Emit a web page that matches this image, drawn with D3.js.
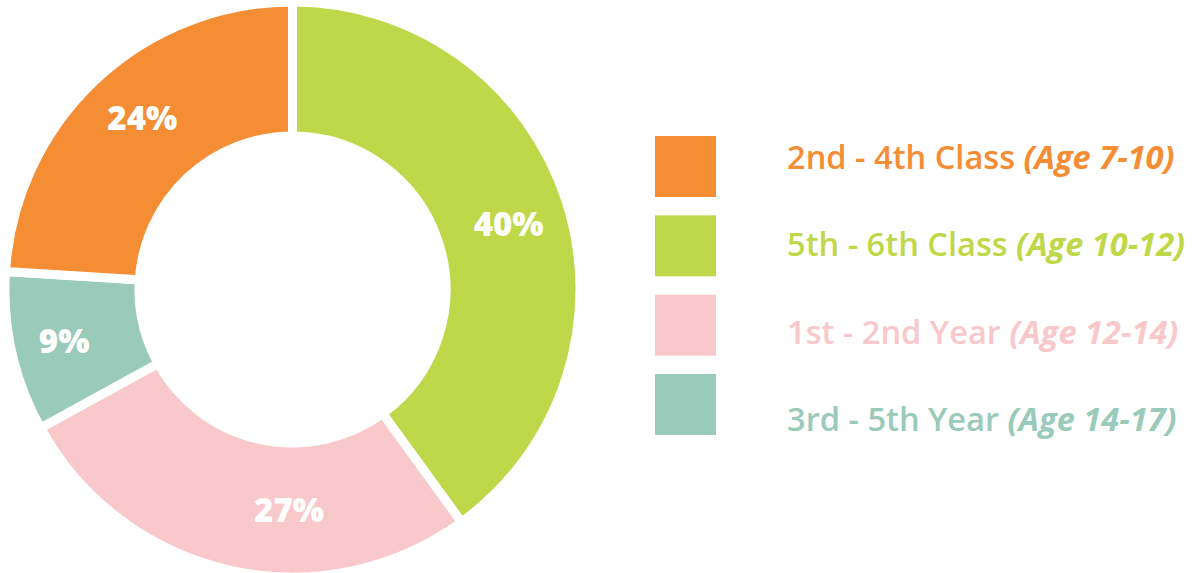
<!DOCTYPE html>
<html>
<head>
<meta charset="utf-8">
<script src="https://cdn.jsdelivr.net/npm/d3@7"></script>
<style>
  html, body { margin: 0; padding: 0; background: #ffffff; }
  svg { display: block; }
</style>
</head>
<body>
<svg id="chart" width="1199" height="573"></svg>
<script>
// ---- data ----
const categories = ["2nd - 4th Class", "5th - 6th Class", "1st - 2nd Year", "3rd - 5th Year"];
const ageRanges  = ["(Age 7-10)", "(Age 10-12)", "(Age 12-14)", "(Age 14-17)"];
const shares     = [24, 40, 27, 9];
const colors     = ["#f58d34", "#bfd849", "#f8c8cb", "#9acab9"];
// drawing order around the ring (clockwise from 12 o'clock)
const ringOrder  = [1, 2, 3, 0];

// ---- layout ----
const W = 1199, H = 573;
const cx = 292.5, cy = 289.5;
const outerR = 287.5, innerR = 153.5, gap = 9;
const labelR = 226;
const labelNudgeDeg = { 2: -11.7, 3: 0, 0: 2, 1: 1 };
const labelRNudge = { 2: -6, 3: 8, 0: 2, 1: 0 };

const svg = d3.select("#chart");
const g = svg.append("g").attr("transform", `translate(${cx},${cy})`);

const pie = d3.pie().sort(null).value(i => shares[i]);
const arcs = pie(ringOrder);
const arc = d3.arc().innerRadius(innerR).outerRadius(outerR);

g.selectAll("path.slice")
  .data(arcs)
  .join("path")
  .attr("class", "slice")
  .attr("d", arc)
  .attr("fill", d => colors[d.data])
  .attr("stroke", "#ffffff")
  .attr("stroke-width", gap)
  .attr("stroke-linejoin", "miter");

const labelPos = d => {
  const a = (d.startAngle + d.endAngle) / 2 + (labelNudgeDeg[d.data] || 0) * Math.PI / 180;
  const r = labelR + (labelRNudge[d.data] || 0);
  return [Math.sin(a) * r, -Math.cos(a) * r];
};

g.selectAll("text.pct")
  .data(arcs)
  .join("text")
  .attr("class", "pct")
  .attr("x", d => labelPos(d)[0])
  .attr("y", d => labelPos(d)[1])
  .attr("text-anchor", "middle")
  .attr("dominant-baseline", "central")
  .attr("font-family", "'Open Sans', sans-serif")
  .attr("font-weight", 800)
  .attr("font-size", 33)
  .attr("fill", "#ffffff")
  .text(d => shares[d.data] + "%");

// ---- legend ----
const sq = d3.scaleLinear().domain([0, 3]).range([136, 374]);
const tx = d3.scaleLinear().domain([0, 3]).range([168.5, 431]);
const legend = svg.append("g");
const idx = d3.range(categories.length);

legend.selectAll("rect")
  .data(idx)
  .join("rect")
  .attr("x", 655)
  .attr("y", i => sq(i))
  .attr("width", 61)
  .attr("height", 61)
  .attr("fill", i => colors[i]);

const lt = legend.selectAll("text")
  .data(idx)
  .join("text")
  .attr("x", 787)
  .attr("y", i => tx(i))
  .attr("font-family", "'Open Sans', sans-serif")
  .attr("font-size", 32.6)
  .attr("fill", i => colors[i]);

lt.append("tspan").attr("font-weight", 600).text(i => categories[i] + " ");
lt.append("tspan").attr("font-weight", 700).attr("font-style", "italic").text(i => ageRanges[i]);
</script>
</body>
</html>
